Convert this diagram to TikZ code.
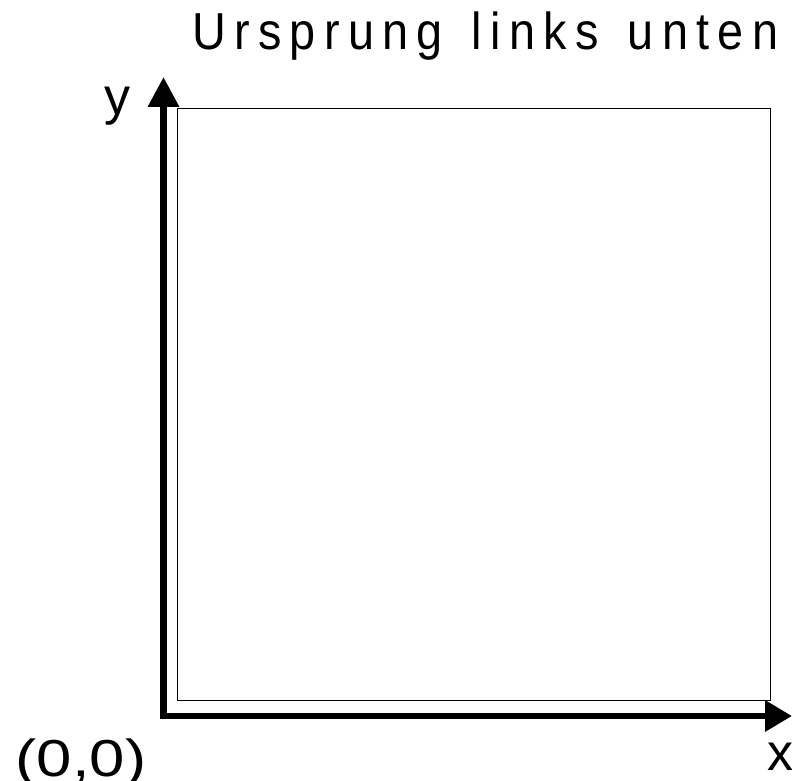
\documentclass[tikz,border=0pt]{standalone}
\usepackage{fontspec}
\setmainfont{Liberation Sans}
\newfontfamily\headfont{Liberation Sans}[FakeStretch=0.9,LetterSpace=16]
\newfontfamily\widefont{Liberation Sans}[FakeStretch=1.22]
\newcommand\headstyle{\headfont\fontsize{52}{60}\selectfont\spaceskip=29pt\relax}
\usetikzlibrary{arrows.meta}
\begin{document}
\begin{tikzpicture}[x=1pt,y=-1pt,
  lbl/.style={inner sep=0pt,font=\fontsize{52}{60}\selectfont},
  origlbl/.style={inner sep=0pt,font=\widefont\fontsize{52}{60}\selectfont},
  head/.style={inner sep=0pt,font=\headstyle},
  axis/.style={line width=6.5pt,line join=miter,
    {Triangle[length=30pt,width=30pt]}-{Triangle[length=27pt,width=30pt]}},
  frame/.style={draw,line width=1.2pt}]
  \useasboundingbox (0,0) rectangle (792,781);
  % title
  \node[head,anchor=base west] (title) at (192,50) {Ursprung links unten};
  % coordinate system
  \coordinate (ytip) at (163.5,77);
  \coordinate (origin) at (163.5,716);
  \coordinate (xtip) at (792,716);
  \draw[axis] (ytip) -- (origin) -- (xtip);
  % drawing area
  \node[frame,minimum width=593pt,minimum height=592pt,inner sep=0pt,anchor=north west] (area) at (177,108) {};
  % axis labels
  \node[lbl,anchor=base west] (ylabel) at (104,114) {y};
  \node[lbl,anchor=base west] (xlabel) at (767,770) {x};
  \node[origlbl,anchor=base west] (olabel) at (15.5,776) {(0,0)};
\end{tikzpicture}
\end{document}
